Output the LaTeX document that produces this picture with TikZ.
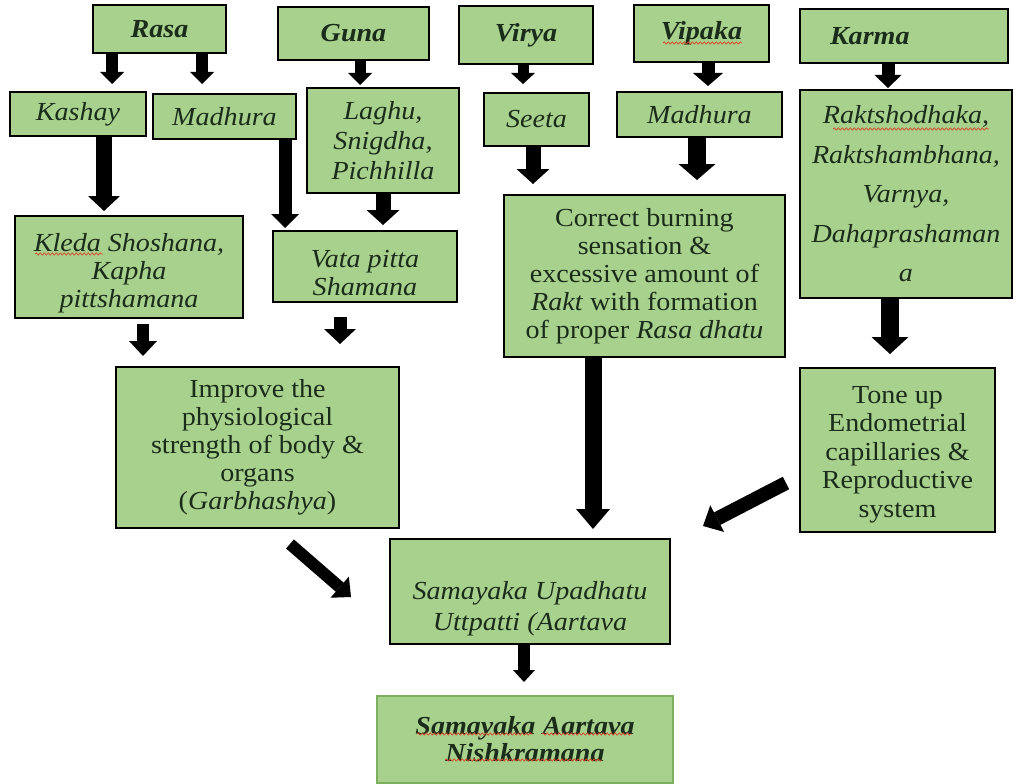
\documentclass[tikz,border=0pt]{standalone}
\usepackage{fontspec}
\setmainfont{Liberation Serif}[FakeStretch=1.08]
\usetikzlibrary{arrows.meta,decorations.pathmorphing}
\definecolor{boxfill}{RGB}{169,209,142}
\definecolor{txt}{RGB}{26,44,26}
\definecolor{finaledge}{RGB}{125,175,95}
\definecolor{wavecol}{RGB}{215,70,40}
\begin{document}
\begin{tikzpicture}[x=1pt,y=-1pt,
  box/.style={draw=black,line width=2pt,fill=boxfill,text=txt,align=center,inner sep=0pt},
  fnt/.style={font=\fontsize{26}{#1}\selectfont},
  itfnt/.style={font=\fontsize{26}{#1}\selectfont\itshape},
  bifnt/.style={font=\fontsize{26}{#1}\selectfont\bfseries\itshape},
  arr/.style n args={3}{line width=#1,-{Triangle[length=#3,width=#2,line width=0pt]}},
  squig/.style={draw=wavecol,line width=0.7pt,decorate,decoration={snake,amplitude=1.1pt,segment length=4pt}},
]
\fill[white] (0,0) rectangle (1018,784);
\useasboundingbox (0,0) rectangle (1018,784);

% top row
\node[box,bifnt=28,minimum width=133pt,minimum height=48pt] (rasa) at (159.5,29) {Rasa};
\node[box,bifnt=28,minimum width=151pt,minimum height=53pt] (guna) at (353.5,33.5) {Guna};
\node[box,bifnt=28,minimum width=134pt,minimum height=58pt] (virya) at (526,35) {Virya};
\node[box,bifnt=28,minimum width=135pt,minimum height=57pt] (vipaka) at (701.5,33.5) {Vipaka};
\node[box,bifnt=28,minimum width=208pt,minimum height=54pt] (karma) at (904,36) {\makebox[180pt][l]{\hspace*{16pt}Karma}};

% second row
\node[box,itfnt=28,minimum width=136pt,minimum height=44pt] (kashay) at (78,114) {Kashay};
\node[box,itfnt=28,minimum width=143pt,minimum height=45pt] (madL) at (224.5,116.5) {Madhura};
\node[box,itfnt=30,minimum width=152pt,minimum height=105pt] (laghu) at (383,140.5) {Laghu,\\Snigdha,\\Pichhilla};
\node[box,itfnt=28,minimum width=105pt,minimum height=53pt] (seeta) at (536.5,119.5) {Seeta};
\node[box,itfnt=28,minimum width=165pt,minimum height=45pt] (madR) at (699.5,114.5) {Madhura};
\node[box,itfnt=39.5,minimum width=212pt,minimum height=208pt] (rakt) at (906,194) {Raktshodhaka,\\Raktshambhana,\\Varnya,\\Dahaprashaman\\a};

% third row
\node[box,itfnt=28,minimum width=228pt,minimum height=102pt] (kleda) at (129,267) {\rule{0pt}{30pt}Kleda Shoshana,\\Kapha\\pittshamana};
\node[box,itfnt=28,minimum width=184pt,minimum height=71pt] (vata) at (365,266.5) {\rule{0pt}{30pt}Vata pitta\\Shamana};
\node[box,fnt=28,minimum width=281pt,minimum height=162pt] (correct) at (644.5,276) {Correct burning\\sensation \&\\excessive amount of\\\textit{Rakt} with formation\\of proper \textit{Rasa dhatu}};

% fourth row
\node[box,fnt=28,minimum width=283pt,minimum height=161pt] (improve) at (257.5,447.5) {Improve the\\physiological\\strength of body \&\\organs\\(\textit{Garbhashya})};
\node[box,fnt=28.5,minimum width=195pt,minimum height=164pt] (tone) at (897.5,450) {\rule{0pt}{26pt}Tone up\\Endometrial\\capillaries \&\\Reproductive\\system};

% bottom
\node[box,itfnt=31,minimum width=280pt,minimum height=105pt] (sama) at (530,591.5) {\rule{0pt}{21pt}\\Samayaka Upadhatu\\Uttpatti (Aartava};
\node[box,draw=finaledge,bifnt=27,minimum width=296pt,minimum height=87pt] (final) at (525,739.5) {Samayaka Aartava\\Nishkramana};

% spell-check squiggles
\draw[squig] ([xshift=-38.5pt,yshift=-9.5pt]vipaka.center) -- ([xshift=40.5pt,yshift=-9.5pt]vipaka.center);
\draw[squig] ([xshift=-94pt,yshift=13pt]kleda.center) -- ([xshift=-26pt,yshift=13pt]kleda.center);
\draw[squig] ([xshift=-73pt,yshift=65pt]rakt.center) -- ([xshift=83pt,yshift=65pt]rakt.center);
\draw[squig] ([xshift=-108pt,yshift=5.5pt]final.center) -- ([xshift=8pt,yshift=5.5pt]final.center);
\draw[squig] ([xshift=17pt,yshift=5.5pt]final.center) -- ([xshift=107pt,yshift=5.5pt]final.center);
\draw[squig] ([xshift=-80pt,yshift=-20.5pt]final.center) -- ([xshift=77pt,yshift=-20.5pt]final.center);

% arrows
\draw[arr={12pt}{24pt}{12pt}] ([xshift=-47.5pt]rasa.south) -- ([xshift=34pt,yshift=7pt]kashay.north);
\draw[arr={12pt}{24pt}{12pt}] ([xshift=42.5pt]rasa.south) -- ([xshift=-22.5pt,yshift=9pt]madL.north);
\draw[arr={11pt}{24pt}{12pt}] ([xshift=6.5pt]guna.south) -- ([xshift=-23pt,yshift=2pt]laghu.north);
\draw[arr={11pt}{24pt}{11pt}] ([xshift=-3pt]virya.south) -- ([xshift=-13.5pt,yshift=8pt]seeta.north);
\draw[arr={13pt}{30pt}{13pt}] ([xshift=6.5pt]vipaka.south) -- ([xshift=8.5pt,yshift=5pt]madR.north);
\draw[arr={13pt}{27pt}{13pt}] ([xshift=-16pt]karma.south) -- ([xshift=-18pt,yshift=1pt]rakt.north);
\draw[arr={16pt}{32pt}{15pt}] ([xshift=26pt]kashay.south) -- ([xshift=-25pt,yshift=4pt]kleda.north);
\draw[arr={13pt}{28pt}{14pt}] ([xshift=60.5pt]madL.south) -- ([xshift=-80pt,yshift=2pt]vata.north);
\draw[arr={15pt}{33pt}{15pt}] (laghu.south) -- ([xshift=18pt,yshift=5pt]vata.north);
\draw[arr={15pt}{33pt}{15pt}] ([xshift=-3.5pt]seeta.south) -- ([xshift=-111.5pt,yshift=10pt]correct.north);
\draw[arr={18pt}{37pt}{16pt}] ([xshift=-2.5pt]madR.south) -- ([xshift=52.5pt,yshift=14pt]correct.north);
\draw[arr={18pt}{37pt}{17pt}] ([xshift=-16pt]rakt.south) -- ([xshift=-7.5pt,yshift=13pt]tone.north);
\draw[arr={12pt}{28pt}{15pt}] ([xshift=14pt,yshift=-5pt]kleda.south) -- ([xshift=-114.5pt,yshift=10pt]improve.north);
\draw[arr={13pt}{32pt}{15pt}] ([xshift=-25pt,yshift=-14pt]vata.south) -- ([xshift=82.5pt,yshift=22pt]improve.north);
\draw[arr={17pt}{34pt}{20pt}] ([xshift=-51.5pt]correct.south) -- ([xshift=63pt,yshift=9pt]sama.north);
\draw[arr={14pt}{30pt}{16pt}] ([xshift=-13pt,yshift=-33pt]tone.west) -- ([xshift=32pt,yshift=12pt]sama.north east);
\draw[arr={12pt}{28pt}{15pt}] ([xshift=32.5pt,yshift=-15pt]improve.south) -- ([xshift=-38pt,yshift=-5.5pt]sama.west);
\draw[arr={12pt}{22pt}{12pt}] ([xshift=-6pt]sama.south) -- ([xshift=-1pt,yshift=13pt]final.north);
\end{tikzpicture}
\end{document}
